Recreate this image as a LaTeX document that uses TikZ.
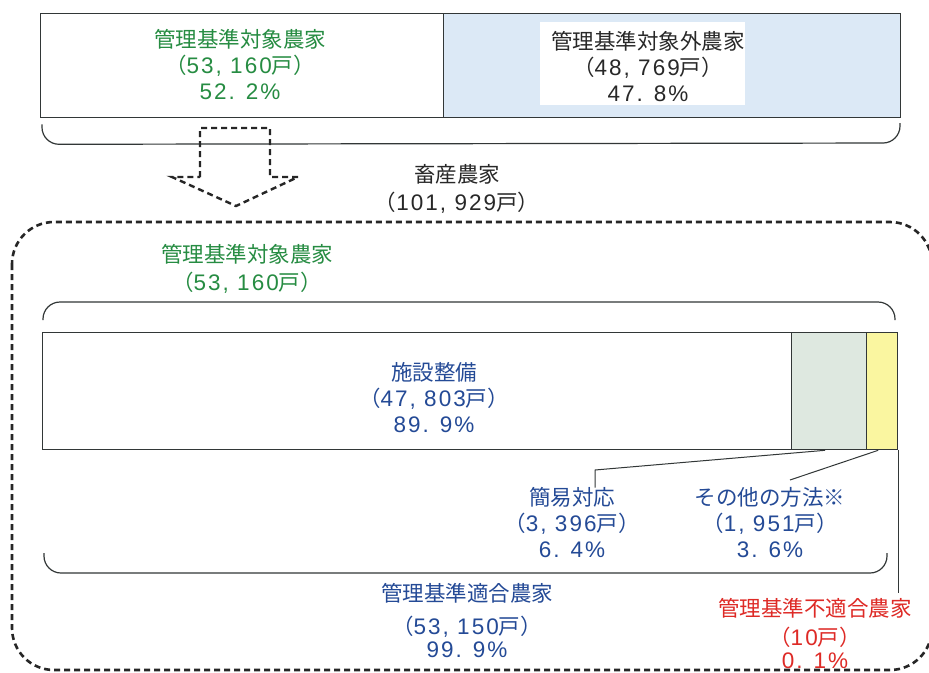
\documentclass[tikz,border=0pt]{standalone}
\usepackage{fontspec}
\setmainfont{Noto Sans CJK JP}
\newfontfamily\latf[LetterSpace=9]{Liberation Sans}
\newcommand{\dg}[1]{{\latf\fontsize{22.5}{26}\selectfont #1}}
\usetikzlibrary{calc}
\definecolor{tgreen}{RGB}{38,140,66}
\definecolor{tblue}{RGB}{36,74,150}
\definecolor{tred}{RGB}{222,42,38}
\definecolor{tdark}{RGB}{40,40,40}
\definecolor{lblue}{RGB}{220,233,246}
\definecolor{lgreen}{RGB}{222,232,224}
\definecolor{lyellow}{RGB}{250,246,160}
\definecolor{edge}{RGB}{50,55,55}
\begin{document}
\begin{tikzpicture}[x=1pt,y=-1pt,
  lbl/.style={align=center, font=\fontsize{21.5}{26}\selectfont, inner sep=0pt},
  seg/.style={draw=edge, line width=1.3pt, inner sep=0pt, anchor=north west},
  brace/.style={draw=edge, line width=1.2pt, rounded corners=17pt},
  leader/.style={draw=edge, line width=1pt},
  dashbox/.style={draw=black!85, line width=2.6pt, dash pattern=on 6pt off 4pt, rounded corners=42pt},
  dasharrow/.style={draw=black!85, line width=2.4pt, dash pattern=on 6pt off 4pt, line join=miter}
]
\useasboundingbox (0,0) rectangle (929,672);
\fill[white] (0,0) rectangle (929,672);

% top bar
\node[seg, fill=white, minimum width=403pt, minimum height=104pt] (tgt) at (40,13) {};
\node[seg, fill=lblue, minimum width=457pt, minimum height=104pt] (ntgt) at (443,13) {};
\node[fill=white, minimum width=205pt, minimum height=83pt, inner sep=0pt] (ntgtbg) at (642,63) {};
\node[lbl, text=tgreen] (tgtTxt) at (240,65) {管理基準対象農家\\（\dg{53, 160}戸）\\\dg{52. 2\%}};
\node[lbl, text=tdark] (ntgtTxt) at (648,67) {管理基準対象外農家\\（\dg{48, 769}戸）\\\dg{47. 8\%}};
\draw[brace] (tgt.south west) ++(2,6) -- ++(0,20) -- (900,143) -- (900,123);

% dashed arrow
\draw[dasharrow] (200,177) -- (200,128) -- (270,128) -- (270,177) -- (298,177) -- (236,206) -- (172,177) -- cycle;

\node[lbl, text=tdark] (all) at (457,189) {畜産農家\\[2pt]（\dg{101, 929}戸）};

% dashed region
\draw[dashbox] (12,222) rectangle (932,670);

\node[lbl, text=tgreen] (tgt2) at (247,269) {管理基準対象農家\\[2pt]（\dg{53, 160}戸）};
\draw[brace] (43,320) -- (43,302) -- (895,302) -- (895,320);

% main bar
\node[seg, fill=white, minimum width=749pt, minimum height=117pt] (shisetsu) at (42,332) {};
\node[seg, fill=lgreen, minimum width=75pt, minimum height=117pt] (kani) at (791,332) {};
\node[seg, fill=lyellow, minimum width=31pt, minimum height=117pt] (other) at (866,332) {};

\node[lbl, text=tblue] (shisetsuTxt) at (434,398) {施設整備\\（\dg{47, 803}戸）\\\dg{89. 9\%}};
\node[lbl, text=tblue] (kaniTxt) at (572,523) {簡易対応\\（\dg{3, 396}戸）\\\dg{6. 4\%}};
\node[lbl, text=tblue] (otherTxt) at (770,523) {その他の方法※\\（\dg{1, 951}戸）\\\dg{3. 6\%}};

\coordinate (k1) at (595,470);
\draw[leader] ([xshift=-4pt]kani.south) -- (k1) -- (k1 |- kaniTxt.north);
\coordinate (k2) at (790,480);
\draw[leader] ([xshift=-4pt]other.south) -- (k2);

\draw[brace] (44,553) -- (44,573) -- (887,573) -- (887,553);

\node[lbl, text=tblue] (fitTxt) at (467,621) {管理基準適合農家\\[7pt]（\dg{53, 150}戸）\\[-3pt]\dg{99. 9\%}};
\node[lbl, text=tred] (ngTxt) at (815,634) {管理基準不適合農家\\[3pt]（\dg{10}戸）\\[-3pt]\dg{0. 1\%}};
\coordinate (v) at (other.south east |- ngTxt.north);
\draw[leader] (other.south east) -- ([yshift=6pt]v);
\end{tikzpicture}
\end{document}
